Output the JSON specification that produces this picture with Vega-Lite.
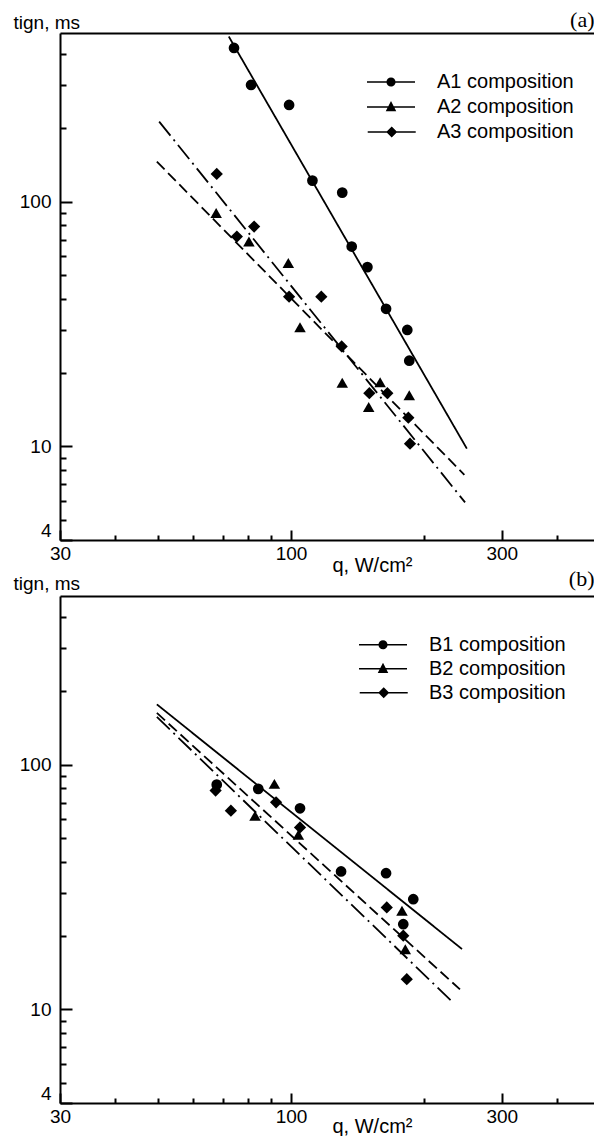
{
  "$schema": "https://vega.github.io/schema/vega-lite/v6.json",
  "padding": {"left": 13, "top": 8, "right": 0, "bottom": 0},
  "bounds": "flush",
  "spacing": 56,
  "config": {
    "view": {"stroke": null},
    "font": "Liberation Sans",
    "axis": {"grid": false, "domainColor": "black", "tickColor": "black", "labelColor": "black", "titleColor": "black", "domainWidth": 2, "tickWidth": 2}
  },
  "datasets": {
    "ptsA": [
      {"series": "A1 composition", "q": 74.3, "t": 424},
      {"series": "A1 composition", "q": 81.2, "t": 299.5},
      {"series": "A1 composition", "q": 99.0, "t": 248},
      {"series": "A1 composition", "q": 111.8, "t": 121.8},
      {"series": "A1 composition", "q": 130.6, "t": 108.8},
      {"series": "A1 composition", "q": 137.2, "t": 65.5},
      {"series": "A1 composition", "q": 148.9, "t": 54.0},
      {"series": "A1 composition", "q": 164.1, "t": 36.5},
      {"series": "A1 composition", "q": 183.3, "t": 29.9},
      {"series": "A1 composition", "q": 185.2, "t": 22.4},
      {"series": "A2 composition", "q": 67.7, "t": 89.9},
      {"series": "A2 composition", "q": 80.3, "t": 68.7},
      {"series": "A2 composition", "q": 98.6, "t": 56.1},
      {"series": "A2 composition", "q": 104.8, "t": 30.7},
      {"series": "A2 composition", "q": 130.6, "t": 18.2},
      {"series": "A2 composition", "q": 149.9, "t": 14.5},
      {"series": "A2 composition", "q": 159.1, "t": 18.3},
      {"series": "A2 composition", "q": 185.2, "t": 16.2},
      {"series": "A3 composition", "q": 67.9, "t": 129.7},
      {"series": "A3 composition", "q": 75.4, "t": 72.0},
      {"series": "A3 composition", "q": 82.5, "t": 79.1},
      {"series": "A3 composition", "q": 99.0, "t": 40.9},
      {"series": "A3 composition", "q": 117.1, "t": 40.9},
      {"series": "A3 composition", "q": 130.2, "t": 25.6},
      {"series": "A3 composition", "q": 150.4, "t": 16.5},
      {"series": "A3 composition", "q": 165.2, "t": 16.5},
      {"series": "A3 composition", "q": 184.3, "t": 13.1},
      {"series": "A3 composition", "q": 185.9, "t": 10.26}
    ],
    "fitA": [
      {"series": "A1 composition", "q": 72.3, "t": 472},
      {"series": "A1 composition", "q": 250, "t": 9.8},
      {"series": "A2 composition", "q": 49.7, "t": 145.6},
      {"series": "A2 composition", "q": 246.8, "t": 7.66},
      {"series": "A3 composition", "q": 50.3, "t": 212.1},
      {"series": "A3 composition", "q": 247.7, "t": 5.91}
    ],
    "ptsB": [
      {"series": "B1 composition", "q": 67.9, "t": 82.8},
      {"series": "B1 composition", "q": 84.3, "t": 79.6},
      {"series": "B1 composition", "q": 104.8, "t": 66.3},
      {"series": "B1 composition", "q": 129.8, "t": 36.6},
      {"series": "B1 composition", "q": 164.1, "t": 36.0},
      {"series": "B1 composition", "q": 189.1, "t": 28.2},
      {"series": "B1 composition", "q": 179.5, "t": 22.3},
      {"series": "B2 composition", "q": 91.7, "t": 83.4},
      {"series": "B2 composition", "q": 82.9, "t": 61.8},
      {"series": "B2 composition", "q": 103.9, "t": 51.7},
      {"series": "B2 composition", "q": 178.3, "t": 25.3},
      {"series": "B2 composition", "q": 181.4, "t": 17.6},
      {"series": "B3 composition", "q": 67.5, "t": 78.3},
      {"series": "B3 composition", "q": 73.1, "t": 64.8},
      {"series": "B3 composition", "q": 92.5, "t": 70.1},
      {"series": "B3 composition", "q": 104.8, "t": 55.4},
      {"series": "B3 composition", "q": 164.7, "t": 26.1},
      {"series": "B3 composition", "q": 179.5, "t": 20.0},
      {"series": "B3 composition", "q": 182.8, "t": 13.3}
    ],
    "fitB": [
      {"series": "B1 composition", "q": 49.7, "t": 176.1},
      {"series": "B1 composition", "q": 243.8, "t": 17.65},
      {"series": "B2 composition", "q": 49.7, "t": 162.5},
      {"series": "B2 composition", "q": 241.2, "t": 12.07},
      {"series": "B3 composition", "q": 49.7, "t": 156.5},
      {"series": "B3 composition", "q": 231.8, "t": 10.74}
    ]
  },
  "resolve": {
    "scale": {"x": "independent", "y": "independent", "shape": "independent", "strokeDash": "independent", "size": "independent"},
    "legend": {"shape": "independent"}
  },
  "vconcat": [
    {
      "width": 534,
      "height": 507,
      "resolve": {"scale": {"shape": "independent", "size": "independent"}, "axis": {"x": "independent", "y": "independent"}},
      "layer": [
        {
          "data": {"name": "fitA"},
          "mark": {"type": "line", "color": "black", "strokeWidth": 1.8},
          "encoding": {
            "x": {"field": "q", "type": "quantitative", "scale": {"type": "log", "domain": [30, 485], "nice": false},
              "axis": {"orient": "bottom", "values": [30, 100, 300], "labelExpr": "format(datum.value, 'd')", "tickSize": -10, "labelPadding": 14, "labelFlush": false, "labelFont": "Liberation Sans", "labelFontSize": 19,
                "title": "q, W/cm²", "titleFont": "Liberation Sans", "titleFontSize": 20, "titleFontWeight": "normal", "titleAnchor": "start", "titleAlign": "center", "titleX": 312, "titleY": 31, "titleBaseline": "alphabetic"}},
            "y": {"field": "t", "type": "quantitative", "scale": {"type": "log", "domain": [4.15, 488], "nice": false},
              "axis": {"orient": "left", "values": [4.15, 10, 100], "labelExpr": "datum.value < 5 ? '4' : format(datum.value, 'd')", "tickSize": -12, "labelPadding": 21, "labelFlush": 5, "labelFont": "Liberation Sans", "labelFontSize": 19,
                "title": "tign, ms", "titleFont": "Liberation Sans", "titleFontSize": 19, "titleFontWeight": "normal", "titleAngle": 0, "titleAlign": "left", "titleBaseline": "alphabetic", "titleX": -47, "titleY": -5}},
            "detail": {"field": "series"},
            "strokeDash": {"field": "series", "type": "nominal", "scale": {"domain": ["A1 composition", "A2 composition", "A3 composition"], "range": [[1, 0], [11, 5], [18, 5, 2, 5]]}, "legend": null}
          }
        },
        {
          "data": {"name": "ptsA"},
          "mark": {"type": "point", "filled": true, "color": "black", "opacity": 1},
          "encoding": {
            "x": {"field": "q", "type": "quantitative", "scale": {"type": "log", "domain": [30, 485], "nice": false},
              "axis": {"orient": "bottom", "values": [40, 50, 60, 70, 80, 90, 200, 400], "labels": false, "domain": false, "tickSize": -5, "title": null}},
            "y": {"field": "t", "type": "quantitative", "scale": {"type": "log", "domain": [4.15, 488], "nice": false},
              "axis": {"orient": "left", "values": [5, 6, 7, 8, 9, 20, 30, 40, 50, 60, 70, 80, 90, 200, 300, 400], "labels": false, "domain": false, "tickSize": -6, "title": null}},
            "shape": {"field": "series", "type": "nominal", "scale": {"domain": ["A1 composition", "A2 composition", "A3 composition"], "range": ["circle", "triangle-up", "diamond"]}, "legend": null},
            "size": {"field": "series", "type": "nominal", "scale": {"domain": ["A1 composition", "A2 composition", "A3 composition"], "range": [115, 150, 170]}, "legend": null}
          }
        },
        {
          "data": {"name": "ptsA"},
          "mark": {"type": "point", "filled": true, "color": "black", "opacity": 0, "size": 2304},
          "encoding": {
            "x": {"field": "q", "type": "quantitative", "scale": {"type": "log", "domain": [30, 485], "nice": false},
              "axis": {"orient": "top", "domain": true, "ticks": false, "labels": false,
                "title": "(a)", "titleFont": "Liberation Serif", "titleFontSize": 22, "titleFontWeight": "normal", "titleAnchor": "start", "titleAlign": "right", "titleX": 534, "titleY": -7, "titleBaseline": "alphabetic"}},
            "y": {"field": "t", "type": "quantitative", "scale": {"type": "log", "domain": [4.15, 488], "nice": false}, "axis": null},
            "shape": {"field": "series", "type": "nominal",
              "scale": {"domain": ["A1 composition", "A2 composition", "A3 composition"],
                "range": ["M-1,-0.032H1V0.032H-1ZM-0.19,0A0.19,0.19,0,1,1,0.19,0A0.19,0.19,0,1,1,-0.19,0Z", "M-1,-0.032H1V0.032H-1ZM0,-0.25L0.22,0.18L-0.22,0.18Z", "M-0.97,-0.032H1.03V0.032H-0.97ZM0.03,-0.23L0.26,0L0.03,0.23L-0.2,0Z"]},
              "legend": {"orient": "none", "legendX": 307, "legendY": 37.5, "title": null, "padding": 0, "labelFont": "Liberation Sans", "labelFontSize": 20, "labelColor": "black", "labelOffset": 22,
                "symbolFillColor": "black", "symbolStrokeColor": "black", "symbolStrokeWidth": 0, "symbolOpacity": 1, "symbolSize": 2304, "clipHeight": 23, "rowPadding": 2}}
          }
        }
      ]
    },
    {
      "width": 534,
      "height": 507,
      "resolve": {"scale": {"shape": "independent", "size": "independent"}, "axis": {"x": "independent", "y": "independent"}},
      "layer": [
        {
          "data": {"name": "fitB"},
          "mark": {"type": "line", "color": "black", "strokeWidth": 1.8},
          "encoding": {
            "x": {"field": "q", "type": "quantitative", "scale": {"type": "log", "domain": [30, 485], "nice": false},
              "axis": {"orient": "bottom", "values": [30, 100, 300], "labelExpr": "format(datum.value, 'd')", "tickSize": -10, "labelPadding": 14, "labelFlush": false, "labelFont": "Liberation Sans", "labelFontSize": 19,
                "title": "q, W/cm²", "titleFont": "Liberation Sans", "titleFontSize": 20, "titleFontWeight": "normal", "titleAnchor": "start", "titleAlign": "center", "titleX": 312, "titleY": 29, "titleBaseline": "alphabetic"}},
            "y": {"field": "t", "type": "quantitative", "scale": {"type": "log", "domain": [4.15, 488], "nice": false},
              "axis": {"orient": "left", "values": [4.15, 10, 100], "labelExpr": "datum.value < 5 ? '4' : format(datum.value, 'd')", "tickSize": -12, "labelPadding": 21, "labelFlush": 5, "labelFont": "Liberation Sans", "labelFontSize": 19,
                "title": "tign, ms", "titleFont": "Liberation Sans", "titleFontSize": 19, "titleFontWeight": "normal", "titleAngle": 0, "titleAlign": "left", "titleBaseline": "alphabetic", "titleX": -47, "titleY": -7}},
            "detail": {"field": "series"},
            "strokeDash": {"field": "series", "type": "nominal", "scale": {"domain": ["B1 composition", "B2 composition", "B3 composition"], "range": [[1, 0], [11, 5], [18, 5, 2, 5]]}, "legend": null}
          }
        },
        {
          "data": {"name": "ptsB"},
          "mark": {"type": "point", "filled": true, "color": "black", "opacity": 1},
          "encoding": {
            "x": {"field": "q", "type": "quantitative", "scale": {"type": "log", "domain": [30, 485], "nice": false},
              "axis": {"orient": "bottom", "values": [40, 50, 60, 70, 80, 90, 200, 400], "labels": false, "domain": false, "tickSize": -5, "title": null}},
            "y": {"field": "t", "type": "quantitative", "scale": {"type": "log", "domain": [4.15, 488], "nice": false},
              "axis": {"orient": "left", "values": [5, 6, 7, 8, 9, 20, 30, 40, 50, 60, 70, 80, 90, 200, 300, 400], "labels": false, "domain": false, "tickSize": -6, "title": null}},
            "shape": {"field": "series", "type": "nominal", "scale": {"domain": ["B1 composition", "B2 composition", "B3 composition"], "range": ["circle", "triangle-up", "diamond"]}, "legend": null},
            "size": {"field": "series", "type": "nominal", "scale": {"domain": ["B1 composition", "B2 composition", "B3 composition"], "range": [115, 150, 170]}, "legend": null}
          }
        },
        {
          "data": {"name": "ptsB"},
          "mark": {"type": "point", "filled": true, "color": "black", "opacity": 0, "size": 2304},
          "encoding": {
            "x": {"field": "q", "type": "quantitative", "scale": {"type": "log", "domain": [30, 485], "nice": false},
              "axis": {"orient": "top", "domain": true, "ticks": false, "labels": false,
                "title": "(b)", "titleFont": "Liberation Serif", "titleFontSize": 22, "titleFontWeight": "normal", "titleAnchor": "start", "titleAlign": "right", "titleX": 534, "titleY": -11, "titleBaseline": "alphabetic"}},
            "y": {"field": "t", "type": "quantitative", "scale": {"type": "log", "domain": [4.15, 488], "nice": false}, "axis": null},
            "shape": {"field": "series", "type": "nominal",
              "scale": {"domain": ["B1 composition", "B2 composition", "B3 composition"],
                "range": ["M-1,-0.032H1V0.032H-1ZM-0.19,0A0.19,0.19,0,1,1,0.19,0A0.19,0.19,0,1,1,-0.19,0Z", "M-1,-0.032H1V0.032H-1ZM0,-0.25L0.22,0.18L-0.22,0.18Z", "M-0.97,-0.032H1.03V0.032H-0.97ZM0.03,-0.23L0.26,0L0.03,0.23L-0.2,0Z"]},
              "legend": {"orient": "none", "legendX": 299, "legendY": 37.8, "title": null, "padding": 0, "labelFont": "Liberation Sans", "labelFontSize": 20, "labelColor": "black", "labelOffset": 22,
                "symbolFillColor": "black", "symbolStrokeColor": "black", "symbolStrokeWidth": 0, "symbolOpacity": 1, "symbolSize": 2304, "clipHeight": 22, "rowPadding": 2}}
          }
        }
      ]
    }
  ]
}
